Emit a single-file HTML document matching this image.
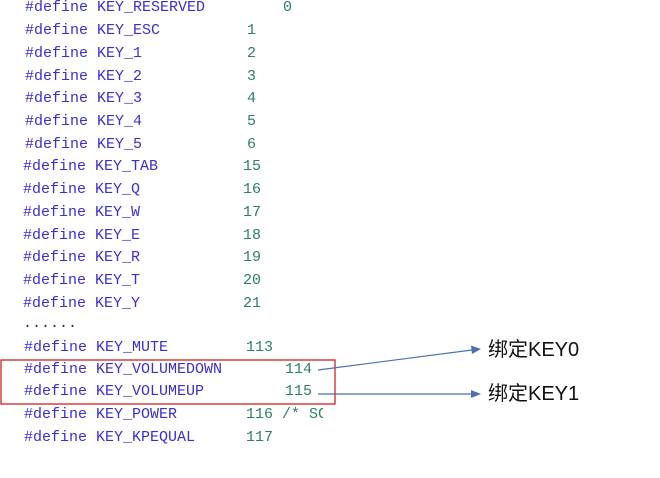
<!DOCTYPE html>
<html><head><meta charset="utf-8"><style>
body{margin:0;width:660px;height:478px;background:#fff;position:relative;overflow:hidden}
.l{position:absolute;font-family:"Liberation Mono",monospace;font-size:15px;color:#3a2fd0;line-height:18px;white-space:pre}
.n{position:absolute;font-family:"Liberation Mono",monospace;font-size:15px;color:#2e8063;line-height:18px;white-space:pre}
.c{position:absolute;font-family:"Liberation Sans","Noto Sans CJK SC",sans-serif;font-size:20px;color:#111;line-height:24px}
</style></head><body>
<div class="l" style="left:25px;top:-1px">#define KEY_RESERVED</div><div class="n" style="left:283px;top:-1px">0</div>
<div class="l" style="left:25px;top:22px">#define KEY_ESC</div><div class="n" style="left:247px;top:22px">1</div>
<div class="l" style="left:25px;top:45px">#define KEY_1</div><div class="n" style="left:247px;top:45px">2</div>
<div class="l" style="left:25px;top:68px">#define KEY_2</div><div class="n" style="left:247px;top:68px">3</div>
<div class="l" style="left:25px;top:90px">#define KEY_3</div><div class="n" style="left:247px;top:90px">4</div>
<div class="l" style="left:25px;top:113px">#define KEY_4</div><div class="n" style="left:247px;top:113px">5</div>
<div class="l" style="left:25px;top:136px">#define KEY_5</div><div class="n" style="left:247px;top:136px">6</div>
<div class="l" style="left:23px;top:158px">#define KEY_TAB</div><div class="n" style="left:243px;top:158px">15</div>
<div class="l" style="left:23px;top:181px">#define KEY_Q</div><div class="n" style="left:243px;top:181px">16</div>
<div class="l" style="left:23px;top:204px">#define KEY_W</div><div class="n" style="left:243px;top:204px">17</div>
<div class="l" style="left:23px;top:227px">#define KEY_E</div><div class="n" style="left:243px;top:227px">18</div>
<div class="l" style="left:23px;top:249px">#define KEY_R</div><div class="n" style="left:243px;top:249px">19</div>
<div class="l" style="left:23px;top:272px">#define KEY_T</div><div class="n" style="left:243px;top:272px">20</div>
<div class="l" style="left:23px;top:295px">#define KEY_Y</div><div class="n" style="left:243px;top:295px">21</div>
<div class="l" style="left:23px;top:315px;color:#333">......</div>
<div class="l" style="left:24px;top:339px">#define KEY_MUTE</div><div class="n" style="left:246px;top:339px">113</div>
<div class="l" style="left:24px;top:361px">#define KEY_VOLUMEDOWN</div><div class="n" style="left:285px;top:361px">114</div>
<div class="l" style="left:24px;top:383px">#define KEY_VOLUMEUP</div><div class="n" style="left:285px;top:383px">115</div>
<div class="l" style="left:24px;top:406px">#define KEY_POWER</div><div class="n" style="left:246px;top:406px">116 /* S<span style="display:inline-block;width:5px;overflow:hidden;vertical-align:top">C</span></div>
<div class="l" style="left:24px;top:429px">#define KEY_KPEQUAL</div><div class="n" style="left:246px;top:429px">117</div>
<svg style="position:absolute;left:0;top:0" width="660" height="478">
<rect x="1" y="360" width="334" height="44" fill="none" stroke="#d42020" stroke-width="1.3"/>
<line x1="318" y1="370" x2="472" y2="350" stroke="#4a72b0" stroke-width="1.2"/>
<polygon points="481,349 471,345.5 472,354" fill="#4a72b0"/>
<line x1="318" y1="394" x2="472" y2="394" stroke="#4a72b0" stroke-width="1.2"/>
<polygon points="481,394 471,390 471,398" fill="#4a72b0"/>
</svg>
<div class="c" style="left:488px;top:338px">绑定KEY0</div>
<div class="c" style="left:488px;top:382px">绑定KEY1</div>
</body></html>
